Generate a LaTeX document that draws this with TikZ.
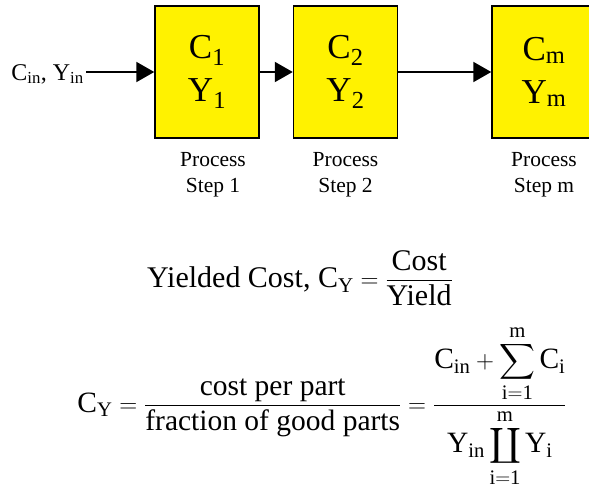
\documentclass[tikz,border=0pt]{standalone}
\usepackage{amsmath}
\usepackage{exscale}
\usepackage{fontspec}
\setmainfont{Liberation Serif}
\usetikzlibrary{positioning,arrows.meta}

\tikzset{
  stepbox/.style={draw=black, line width=1.5pt, fill=yellow, minimum width=104pt,
    minimum height=132pt, inner sep=0pt, align=center, font=\fontsize{35}{43}\selectfont},
  steplabel/.style={align=center, inner sep=0pt, font=\fontsize{21.5}{26}\selectfont},
  flow/.style={line width=2pt, -{Triangle[length=18pt,width=20pt]}},
  eqn/.style={inner sep=0pt, font=\fontsize{30}{36}\selectfont}
}

\begin{document}
\begin{tikzpicture}[x=1pt,y=-1pt]
    \useasboundingbox (0,0) rectangle (589,485);

    % process steps
    \node[stepbox] (box1) at (207,72) {$\mathrm{C_1}$\\$\mathrm{Y_1}$};
    \node[stepbox, right=33pt of box1] (box2) {$\mathrm{C_2}$\\$\mathrm{Y_2}$};
    \node[stepbox, right=93pt of box2] (boxm) {$\mathrm{C_m}$\\$\mathrm{Y_m}$};

    % step names
    \node[steplabel, below=13pt of box1, xshift=6pt] (name1) {Process\\Step 1};
    \node[steplabel, below=13pt of box2] (name2) {Process\\Step 2};
    \node[steplabel, below=13pt of boxm] (namem) {Process\\Step m};

    % input and flow
    \node[anchor=base east, inner sep=2pt, font=\fontsize{24}{28}\selectfont] (input) at (86,80)
        {$\mathrm{C_{in}}$, $\mathrm{Y_{in}}$};
    \draw[flow] (input.east |- box1.west) -- (box1.west);
    \draw[flow] (box1.east) -- (box2.west);
    \draw[flow] (box2.east) -- (boxm.west);

    % formulas
    \node[eqn, anchor=base] (yielded) at (300,287)
        {Yielded Cost, $\mathrm{C_Y} = \dfrac{\mbox{Cost}}{\mbox{Yield}}$};
    \node[eqn, anchor=base, font=\fontsize{29.5}{36}\selectfont] (costy) at (322,412)
        {$\displaystyle \mathrm{C_Y} = \frac{\mbox{cost per part}}{\mbox{fraction of good parts}}
         = \frac{\mathrm{C_{in}} + \displaystyle\sum_{\mathrm{i=1}}^{\mathrm{m}}\mathrm{C_i}}
                {\mathrm{Y_{in}}\displaystyle\coprod_{\mathrm{i=1}}^{\mathrm{m}}\mathrm{Y_i}}$};
\end{tikzpicture}
\end{document}
